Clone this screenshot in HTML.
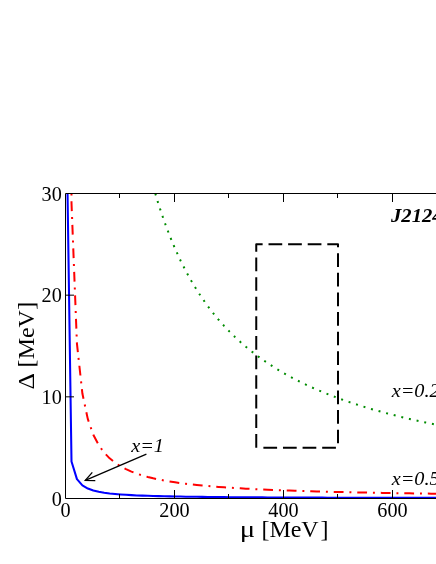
<!DOCTYPE html>
<html><head><meta charset="utf-8"><title>plot</title>
<style>
html,body{margin:0;padding:0;background:#fff;}
body{width:436px;height:564px;overflow:hidden;}
svg{display:block;will-change:transform;font-family:"Liberation Serif",serif;}
</style></head><body>
<svg width="436" height="564" viewBox="0 0 436 564">
<rect width="436" height="564" fill="#fff"/>
<defs><clipPath id="c"><rect x="65.5" y="193.5" width="400" height="305.0"/></clipPath></defs>
<g fill="none" stroke-linejoin="round">
<path d="M155.32,193.50 L158.69,204.80 L164.15,221.02 L169.60,235.55 L175.05,248.63 L180.50,260.47 L185.94,271.24 L191.40,281.08 L196.84,290.10 L202.30,298.41 L207.75,306.07 L213.20,313.17 L218.65,319.77 L224.09,325.91 L229.55,331.64 L235.00,337.01 L240.45,342.04 L245.90,346.77 L251.35,351.22 L256.80,355.41 L262.25,359.38 L267.70,363.13 L273.14,366.68 L278.60,370.05 L284.05,373.25 L289.50,376.30 L294.95,379.20 L300.39,381.97 L305.85,384.61 L311.30,387.14 L316.75,389.56 L322.19,391.87 L327.65,394.09 L333.10,396.21 L338.55,398.25 L344.00,400.22 L349.44,402.10 L354.90,403.92 L360.35,405.67 L365.80,407.35 L371.25,408.98 L376.70,410.54 L382.15,412.06 L387.60,413.52 L393.05,414.93 L398.50,416.30 L403.95,417.62 L409.40,418.91 L414.85,420.15 L420.30,421.35 L425.75,422.52 L431.20,423.65 L436.65,424.75 L442.10,425.82 L447.55,426.85 L453.00,427.86 L458.45,428.84 L463.90,429.79 L469.35,430.72 L474.80,431.62 L480.25,432.50 L485.70,433.36 L491.15,434.19 L496.60,435.01 L502.05,435.80 L507.50,436.57 L512.95,437.33 L518.39,438.06 L523.85,438.78 L529.30,439.48 L534.75,440.17 L540.20,440.84 L545.64,441.49 L551.10,442.13" stroke="#008c00" stroke-width="2" stroke-dasharray="1.96 5.88"/>
<path d="M71.48,193.50 L71.50,202.74 L76.94,343.58 L82.39,393.55 L87.84,419.15 L93.30,434.71 L98.75,445.17 L104.19,452.68 L109.65,458.34 L115.09,462.75 L120.55,466.29 L126.00,469.19 L131.44,471.61 L136.90,473.67 L142.34,475.43 L147.80,476.95 L153.25,478.29 L158.69,479.47 L164.15,480.53 L169.60,481.47 L175.05,482.31 L180.50,483.08 L185.94,483.78 L191.40,484.42 L196.84,485.00 L202.30,485.54 L207.75,486.04 L213.20,486.50 L218.65,486.92 L224.09,487.32 L229.55,487.69 L235.00,488.04 L240.45,488.36 L245.90,488.67 L251.35,488.96 L256.80,489.23 L262.25,489.49 L267.70,489.73 L273.14,489.96 L278.60,490.18 L284.05,490.39 L289.50,490.58 L294.95,490.77 L300.39,490.95 L305.85,491.12 L311.30,491.29 L316.75,491.44 L322.19,491.59 L327.65,491.74 L333.10,491.87 L338.55,492.01 L344.00,492.13 L349.44,492.26 L354.90,492.37 L360.35,492.49 L365.80,492.60 L371.25,492.70 L376.70,492.80 L382.15,492.90 L387.60,493.00 L393.05,493.09 L398.50,493.18 L403.95,493.26 L409.40,493.34 L414.85,493.42 L420.30,493.50 L425.75,493.58 L431.20,493.65 L436.65,493.72 L442.10,493.79 L447.55,493.86 L453.00,493.92 L458.45,493.99 L463.90,494.05 L469.35,494.11 L474.80,494.17 L480.25,494.22 L485.70,494.28 L491.15,494.33 L496.60,494.39 L502.05,494.44 L507.50,494.49 L512.95,494.54 L518.39,494.59 L523.85,494.63 L529.30,494.68 L534.75,494.72 L540.20,494.76 L545.64,494.81 L551.10,494.85" stroke="#ff0000" stroke-width="2" stroke-dasharray="1.96 5.88 9.8 5.88"/>
<path d="M67.54,193.50 L71.50,461.53 L76.94,479.13 L82.39,485.38 L87.84,488.58 L93.30,490.53 L98.75,491.83 L104.19,492.77 L109.65,493.48 L115.09,494.03 L120.55,494.47 L126.00,494.84 L131.44,495.14 L136.90,495.40 L142.34,495.62 L147.80,495.81 L153.25,495.97 L158.69,496.12 L164.15,496.25 L169.60,496.37 L175.05,496.48 L180.50,496.57 L185.94,496.66 L191.40,496.74 L196.84,496.81 L202.30,496.88 L207.75,496.94 L213.20,497.00 L218.65,497.05 L224.09,497.10 L229.55,497.15 L235.00,497.19 L240.45,497.23 L245.90,497.27 L251.35,497.31 L256.80,497.34 L262.25,497.37 L267.70,497.40 L273.14,497.43 L278.60,497.46 L284.05,497.49 L289.50,497.51 L294.95,497.53 L300.39,497.56 L305.85,497.58 L311.30,497.60 L316.75,497.62 L322.19,497.64 L327.65,497.65 L333.10,497.67 L338.55,497.69 L344.00,497.70 L349.44,497.72 L354.90,497.73 L360.35,497.75 L365.80,497.76 L371.25,497.78 L376.70,497.79 L382.15,497.80 L387.60,497.81 L393.05,497.82 L398.50,497.83 L403.95,497.85 L409.40,497.86 L414.85,497.87 L420.30,497.88 L425.75,497.88 L431.20,497.89 L436.65,497.90 L442.10,497.91 L447.55,497.92 L453.00,497.93 L458.45,497.94 L463.90,497.94 L469.35,497.95 L474.80,497.96 L480.25,497.97 L485.70,497.97 L491.15,497.98 L496.60,497.99 L502.05,497.99 L507.50,498.00 L512.95,498.00 L518.39,498.01 L523.85,498.02 L529.30,498.02 L534.75,498.03 L540.20,498.03 L545.64,498.04 L551.10,498.04" stroke="#0000ff" stroke-width="2.05"/>
<path d="M256.25,447.67 L256.25,244.33 L338.00,244.33 L338.00,447.67" stroke="#000" stroke-width="2" stroke-dasharray="13.72 5.88"/>
<path d="M338.00,447.67 L262.25,447.67" stroke="#000" stroke-width="2" stroke-dasharray="13.72 5.88" stroke-dashoffset="17.50"/>
</g>
<g stroke="#000" stroke-width="1" fill="none">
<path d="M441,193.5 L65.5,193.5 L65.5,498.5 L441,498.5"/>
<line x1="119.50" y1="498.5" x2="119.50" y2="494.0"/><line x1="119.50" y1="193.5" x2="119.50" y2="198.0"/><line x1="174.50" y1="498.5" x2="174.50" y2="490.0"/><line x1="174.50" y1="193.5" x2="174.50" y2="202.0"/><line x1="228.50" y1="498.5" x2="228.50" y2="494.0"/><line x1="228.50" y1="193.5" x2="228.50" y2="198.0"/><line x1="283.50" y1="498.5" x2="283.50" y2="490.0"/><line x1="283.50" y1="193.5" x2="283.50" y2="202.0"/><line x1="337.50" y1="498.5" x2="337.50" y2="494.0"/><line x1="337.50" y1="193.5" x2="337.50" y2="198.0"/><line x1="392.50" y1="498.5" x2="392.50" y2="490.0"/><line x1="392.50" y1="193.5" x2="392.50" y2="202.0"/><line x1="446.50" y1="498.5" x2="446.50" y2="494.0"/><line x1="446.50" y1="193.5" x2="446.50" y2="198.0"/><line x1="65.5" y1="396.83" x2="74.0" y2="396.83"/><line x1="65.5" y1="295.17" x2="74.0" y2="295.17"/>
<path d="M146.4,454.1 L85.3,480.4" stroke-width="1.3"/>
<path d="M92.3,472.4 L85.3,480.4 L95.3,480.6" stroke-width="1.3"/>
</g>
<g font-size="20.2" fill="#000">
<text x="65.50" y="516.5" text-anchor="middle">0</text><text x="174.50" y="516.5" text-anchor="middle">200</text><text x="283.50" y="516.5" text-anchor="middle">400</text><text x="392.50" y="516.5" text-anchor="middle">600</text>
<text x="61.8" y="505.60" text-anchor="end">0</text><text x="61.8" y="403.93" text-anchor="end">10</text><text x="61.8" y="302.27" text-anchor="end">20</text><text x="61.8" y="200.60" text-anchor="end">30</text>
</g>
<g font-size="24">
<text y="537.3" x="261.4 269.6 290.8 301.3 320.5">[MeV]</text>
<text transform="translate(239.7,537.3) scale(1.2,1)">μ</text>
<g transform="translate(33.6,0) rotate(-90)">
<text y="0" x="-367.5 -359.2 -338.1 -327.6 -309.8">[MeV]</text>
<text transform="translate(-389.6,0) scale(1.06,1)">Δ</text>
</g>
</g>
<g font-size="19.3" font-style="italic">
<text transform="translate(391.0,221.8) scale(1.07,1)" font-weight="bold">J2124</text>
<text transform="translate(391.7,396.6) scale(1.05,1)">x=0.2</text>
<text transform="translate(391.7,485.2) scale(1.05,1)">x=0.5</text>
<text transform="translate(131.2,451.5) scale(1.05,1)">x=1</text>
</g>
</svg>
</body></html>
